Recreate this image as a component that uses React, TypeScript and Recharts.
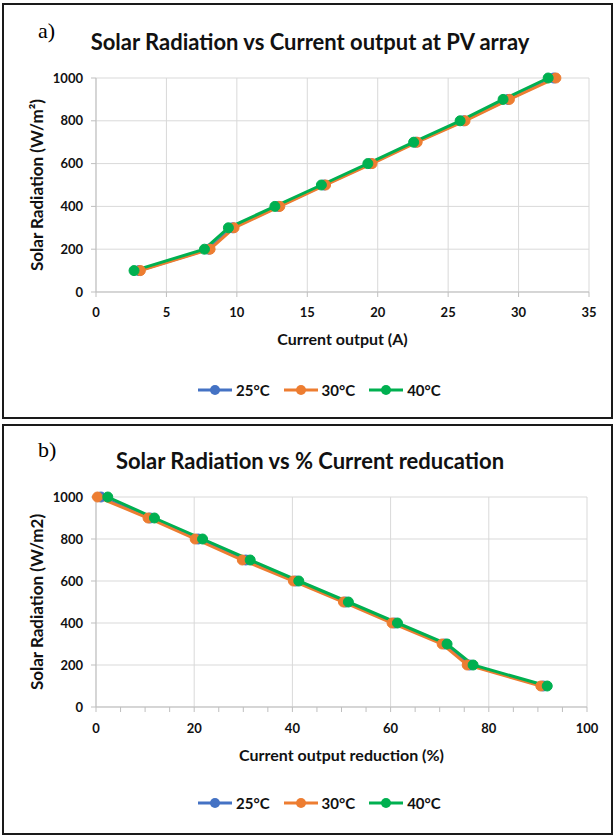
import React from "react";
import { LineChart, Line, XAxis, YAxis, CartesianGrid } from "recharts";

// solar radiation levels (W/m2), shared by both panels
const radiation = [100, 200, 300, 400, 500, 600, 700, 800, 900, 1000];

// panel a: current output (A) at each radiation level
const currentAt25 = [3.05, 8.0, 9.7, 12.95, 16.2, 19.5, 22.7, 26.1, 29.25, 32.5];
const currentAt30 = [3.15, 8.1, 9.8, 13.05, 16.3, 19.6, 22.8, 26.2, 29.35, 32.65];
const currentAt40 = [2.7, 7.7, 9.4, 12.7, 16.0, 19.3, 22.55, 25.85, 28.9, 32.1];

// panel b: current output reduction (%) at each radiation level
const reductionAt25 = [91.1, 76.1, 71.0, 60.8, 50.8, 40.7, 30.5, 20.8, 11.0, 1.0];
const reductionAt30 = [90.6, 75.6, 70.5, 60.3, 50.4, 40.2, 29.8, 20.2, 10.6, 0.3];
const reductionAt40 = [91.9, 76.8, 71.5, 61.4, 51.4, 41.3, 31.4, 21.7, 11.9, 2.4];

const radiationTicks = [0, 200, 400, 600, 800, 1000];
const currentTicks = [0, 5, 10, 15, 20, 25, 30, 35];
const reductionTicks = [0, 20, 40, 60, 80, 100];
const reductionMinorTicks = [
  0, 5, 10, 15, 20, 25, 30, 35, 40, 45, 50, 55, 60, 65, 70, 75, 80, 85, 90, 95, 100,
];

const seriesNames = ["25°C", "30°C", "40°C"];
const seriesColors = ["#4472C4", "#ED7D31", "#00B050"];

const FONT = "Lato, 'Open Sans', sans-serif";
const GRID = "#d9d9d9";
const AXIS = "#bfbfbf";

const toPoints = (xs: number[]) => xs.map((x, i) => ({ x, y: radiation[i] }));

const seriesA = [toPoints(currentAt25), toPoints(currentAt30), toPoints(currentAt40)];
const seriesB = [toPoints(reductionAt25), toPoints(reductionAt30), toPoints(reductionAt40)];

const tickStyle = { fill: "#111", fontSize: 13, fontWeight: 700, fontFamily: FONT };
const xTitleStyle = { fill: "#111", fontSize: 16, fontWeight: 700, fontFamily: FONT };
const yTitleStyle = { fill: "#111", fontSize: 17, fontWeight: 700, fontFamily: FONT, textAnchor: "middle" };

const MajorOnlyTick = (props: any) => {
  const { x, y, payload } = props;
  if (!reductionTicks.includes(payload.value)) return <g />;
  return (
    <text x={x} y={y} dy="0.71em" textAnchor="middle" {...tickStyle}>
      {payload.value}
    </text>
  );
};

function Legend() {
  return (
    <div style={{ display: "flex", gap: 14, alignItems: "center" }}>
      {seriesNames.map((name, i) => (
        <div key={name} style={{ display: "flex", alignItems: "center", gap: 4 }}>
          <svg width={34} height={12}>
            <line x1={0} y1={6} x2={34} y2={6} stroke={seriesColors[i]} strokeWidth={3} />
            <circle cx={17} cy={6} r={5} fill={seriesColors[i]} />
          </svg>
          <span style={{ fontFamily: FONT, fontWeight: 700, fontSize: 15, color: "#111" }}>
            {name}
          </span>
        </div>
      ))}
    </div>
  );
}

function Box({ top, height }: { top: number; height: number }) {
  return (
    <div
      style={{
        position: "absolute",
        left: 2,
        top,
        width: 611,
        height,
        boxSizing: "border-box",
        border: "2px solid #1a1a1a",
        pointerEvents: "none",
      }}
    />
  );
}

function Heading({ top, letter, text }: { top: number; letter: string; text: string }) {
  return (
    <>
      <div
        style={{
          position: "absolute",
          left: 38,
          top: top - 10,
          fontFamily: "'Liberation Serif', serif",
          fontSize: 22,
          lineHeight: "22px",
        }}
      >
        {letter}
      </div>
      <div
        style={{
          position: "absolute",
          left: 0,
          width: 620,
          top: top - 1,
          textAlign: "center",
          fontFamily: FONT,
          fontWeight: 700,
          fontSize: 22,
          lineHeight: "26px",
          color: "#111",
        }}
      >
        {text}
      </div>
    </>
  );
}

export default function App() {
  return (
    <div style={{ position: "absolute", left: 0, top: 0, width: 615, height: 836, background: "#fff" }}>
      <Box top={3} height={416} />
      <Heading top={30} letter="a)" text="Solar Radiation vs Current output at PV array" />
      <div style={{ position: "absolute", left: 0, top: 0 }}>
        <LineChart width={615} height={420} margin={{ top: 78, right: 26, left: 0, bottom: 0 }}>
          <CartesianGrid stroke={GRID} />
          <XAxis
            dataKey="x"
            type="number"
            domain={[0, 35]}
            ticks={currentTicks}
            interval={0}
            height={128}
            tickSize={5}
            tickMargin={11}
            stroke={AXIS}
            tick={tickStyle}
            label={{ value: "Current output (A)", position: "insideTop", offset: 42, style: xTitleStyle }}
          />
          <YAxis
            dataKey="y"
            type="number"
            domain={[0, 1000]}
            ticks={radiationTicks}
            interval={0}
            width={96}
            tickSize={5}
            tickMargin={8}
            stroke={AXIS}
            tick={tickStyle}
            label={{
              value: "Solar Radiation (W/m²)",
              angle: -90,
              position: "insideLeft",
              offset: 37,
              style: yTitleStyle,
            }}
          />
          {seriesA.map((pts, i) => (
            <Line
              key={seriesNames[i]}
              data={pts}
              dataKey="y"
              name={seriesNames[i]}
              type="linear"
              stroke={seriesColors[i]}
              strokeWidth={3}
              dot={{ r: 5, fill: seriesColors[i], stroke: seriesColors[i], strokeWidth: 1 }}
              isAnimationActive={false}
            />
          ))}
        </LineChart>
      </div>
      <div style={{ position: "absolute", left: 198, top: 381 }}>
        <Legend />
      </div>

      <Box top={424} height={411} />
      <Heading top={449} letter="b)" text="Solar Radiation vs % Current reducation" />
      <div style={{ position: "absolute", left: 0, top: 422 }}>
        <LineChart width={615} height={414} margin={{ top: 75, right: 28, left: 0, bottom: 0 }}>
          <CartesianGrid stroke={GRID} verticalValues={reductionTicks} />
          <XAxis
            dataKey="x"
            type="number"
            domain={[0, 100]}
            ticks={reductionMinorTicks}
            interval={0}
            height={129}
            tickSize={5}
            tickMargin={12}
            stroke={AXIS}
            tick={<MajorOnlyTick />}
            label={{ value: "Current output reduction (%)", position: "insideTop", offset: 43, style: xTitleStyle }}
          />
          <YAxis
            dataKey="y"
            type="number"
            domain={[0, 1000]}
            ticks={radiationTicks}
            interval={0}
            width={96}
            tickSize={5}
            tickMargin={8}
            stroke={AXIS}
            tick={tickStyle}
            label={{
              value: "Solar Radiation (W/m2)",
              angle: -90,
              position: "insideLeft",
              offset: 37,
              style: yTitleStyle,
            }}
          />
          {seriesB.map((pts, i) => (
            <Line
              key={seriesNames[i]}
              data={pts}
              dataKey="y"
              name={seriesNames[i]}
              type="linear"
              stroke={seriesColors[i]}
              strokeWidth={3}
              dot={{ r: 5, fill: seriesColors[i], stroke: seriesColors[i], strokeWidth: 1 }}
              isAnimationActive={false}
            />
          ))}
        </LineChart>
      </div>
      <div style={{ position: "absolute", left: 198, top: 794 }}>
        <Legend />
      </div>
    </div>
  );
}
